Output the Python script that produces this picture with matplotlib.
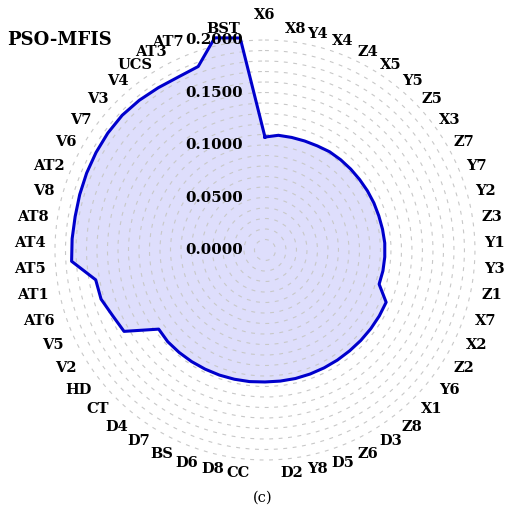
import numpy as np
import matplotlib
matplotlib.use("Agg")
import matplotlib.pyplot as plt

# categories clockwise from the top (two blank spokes in the original)
categories = ["X6", "X8", "Y4", "X4", "Z4", "X5", "Y5", "Z5", "X3", "Z7",
              "Y7", "Y2", "Z3", "Y1", "Y3", "Z1", "X7", "X2", "Z2", "Y6",
              "X1", "Z8", "D3", "Z6", "D5", "Y8", "D2", "", "CC", "D8",
              "D6", "BS", "D7", "D4", "CT", "HD", "V2", "V5", "AT6", "AT1",
              "AT5", "AT4", "AT8", "V8", "AT2", "V6", "V7", "V3", "V4", "UCS",
              "AT3", "AT7", "", "BST"]

importance = [0.1076, 0.1100, 0.1102, 0.1105, 0.1110, 0.1120, 0.1122, 0.1123, 0.1124, 0.1127,
              0.1130, 0.1132, 0.1137, 0.1143, 0.1143, 0.1141, 0.1135, 0.1257, 0.1257, 0.1256,
              0.1255, 0.1254, 0.1255, 0.1256, 0.1257, 0.1258, 0.1257, 0.1257, 0.1262, 0.1265,
              0.1268, 0.1270, 0.1272, 0.1273, 0.1273, 0.1262, 0.1550, 0.1580, 0.1630, 0.1637,
              0.1845, 0.1840, 0.1836, 0.1842, 0.1850, 0.1858, 0.1866, 0.1870, 0.1862, 0.1850,
              0.1843, 0.1860, 0.2077, 0.2033]

r_ticks = [0.0, 0.05, 0.10, 0.15, 0.20]

title = "PSO-MFIS"
caption = "(c)"

# a few labels near the top were shifted in the original (pixels, x right / y up)
nudge = {"X6": (0, 12), "X8": (4, 0), "AT7": (-17, -1), "AT3": (-9, 0), "BST": (-15, 0)}

plt.rcParams['font.family'] = ['DejaVu Serif']

fig = plt.figure(figsize=(5.08, 5.15), dpi=100)
ax = fig.add_axes([0.0876, 0.0864, 0.868, 0.8563], projection='polar')
ax.set_theta_zero_location('N')
ax.set_theta_direction(-1)

n = len(categories)
angles = np.linspace(0, 2 * np.pi, n, endpoint=False)
theta = np.append(angles, angles[0])
vals = np.append(importance, importance[0])

ax.fill(theta, vals, color='#dedefc', zorder=1)
ax.plot(theta, vals, color='#0000cc', linewidth=2.2, zorder=3)

ax.set_ylim(0, 0.21)
ax.set_yticks(np.arange(0.01, 0.2001, 0.01))
ax.set_yticklabels([])
ax.yaxis.grid(True, color='#c8c8c8', linestyle=(0, (3.5, 5)), linewidth=0.8)
ax.xaxis.grid(False)
ax.spines['polar'].set_visible(False)
ax.set_facecolor('none')
ax.set_xticks(angles)
ax.set_xticklabels([])
ax.tick_params(axis='x', length=0)

# category labels: the text box sits just outside a ring around the plot
texts = []
for a, lbl in zip(angles, categories):
    if not lbl:
        continue
    t = ax.annotate(lbl, xy=(0, 0), xytext=(0, 0), textcoords='offset points',
                    ha='center', va='center', fontsize=10.5, fontweight='bold',
                    annotation_clip=False)
    texts.append((a, lbl, t))

fig.canvas.draw()
renderer = fig.canvas.get_renderer()
for a, lbl, t in texts:
    w = t.get_window_extent(renderer).width
    s, c = np.sin(a), np.cos(a)
    R0 = 216 + 4 * abs(s)
    nx, ny = nudge.get(lbl, (0, 0))
    dx = R0 * s + w / 2 * s + nx
    dy = R0 * c + 7 * c - 6 * abs(s) + ny
    t.xyann = (dx * 0.72, dy * 0.72)

for r in r_ticks:
    ax.annotate(f"{r:.4f}", xy=(0, r), xytext=(-16, 0), textcoords='offset points',
                ha='right', va='center', fontsize=10.8, fontweight='bold', zorder=5)

fig.text(59 / 508, 1 - 40 / 515, title, ha='center', va='center',
         fontsize=13, fontweight='bold')
fig.text(263 / 508, 1 - 498 / 515, caption, ha='center', va='center', fontsize=10.5)

fig.savefig("out.png", dpi=100)
